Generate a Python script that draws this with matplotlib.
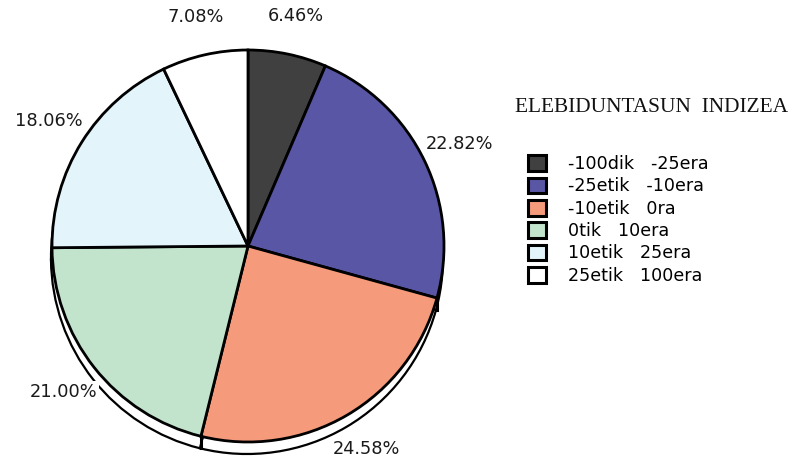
import numpy as np
import matplotlib
matplotlib.use("Agg")
import matplotlib.pyplot as plt

# data
categories = ["-100dik   -25era", "-25etik   -10era", "-10etik   0ra",
              "0tik   10era", "10etik   25era", "25etik   100era"]
shares = [6.46, 22.82, 24.58, 21.00, 18.06, 7.08]
colors = ["#404040", "#5a56a6", "#f59a7b", "#c2e3cc", "#e3f4fb", "#ffffff"]
title = "ELEBIDUNTASUN  INDIZEA"

W, H = 795, 461
fig = plt.figure(figsize=(W / 100, H / 100), dpi=100)
ax = fig.add_axes([0, 0, 1, 1])

cx, cy, R = 248, H - 246, 196
depth = 12

# 3d-ish side of the pie
ax.pie(shares, colors=["white"] * len(shares), startangle=90, counterclock=False,
       center=(cx - 1, cy - depth), radius=R,
       wedgeprops=dict(edgecolor="black", linewidth=1.6))

# vertical edges of the side where slices meet in the lower half
bounds = 90 - 360 * np.cumsum(shares) / sum(shares)
for a in bounds:
    s = np.sin(np.radians(a))
    if s < -0.1:
        x = cx + R * np.cos(np.radians(a))
        y = cy + R * s
        ax.plot([x, x], [y, y - depth], color="black", lw=2.2)

wedges, _, autotexts = ax.pie(
    shares, colors=colors, startangle=90, counterclock=False,
    center=(cx, cy), radius=R, autopct="%.2f%%", pctdistance=1.2,
    wedgeprops=dict(edgecolor="black", linewidth=2.0),
    textprops=dict(fontsize=12.8, color="#1a1a1a"))
for t in autotexts:
    t.set_bbox(dict(facecolor="white", edgecolor="none", pad=1))
    t.set_zorder(5)

ax.set_xlim(0, W)
ax.set_ylim(0, H)
ax.set_aspect("auto")
ax.axis("off")

ax.text(515, H - 108, title, fontsize=15.4, family="Liberation Serif",
        va="center", ha="left", color="#111111")

leg = ax.legend(wedges, categories, loc="upper left",
                bbox_to_anchor=(528, H - 155), bbox_transform=ax.transData,
                frameon=False, fontsize=12.6, handlelength=1.0, handleheight=1.0,
                handletextpad=1.3, labelspacing=0.25, borderpad=0, borderaxespad=0)
for h in leg.legend_handles:
    h.set_linewidth(2.2)

fig.savefig("out.png", dpi=100)
